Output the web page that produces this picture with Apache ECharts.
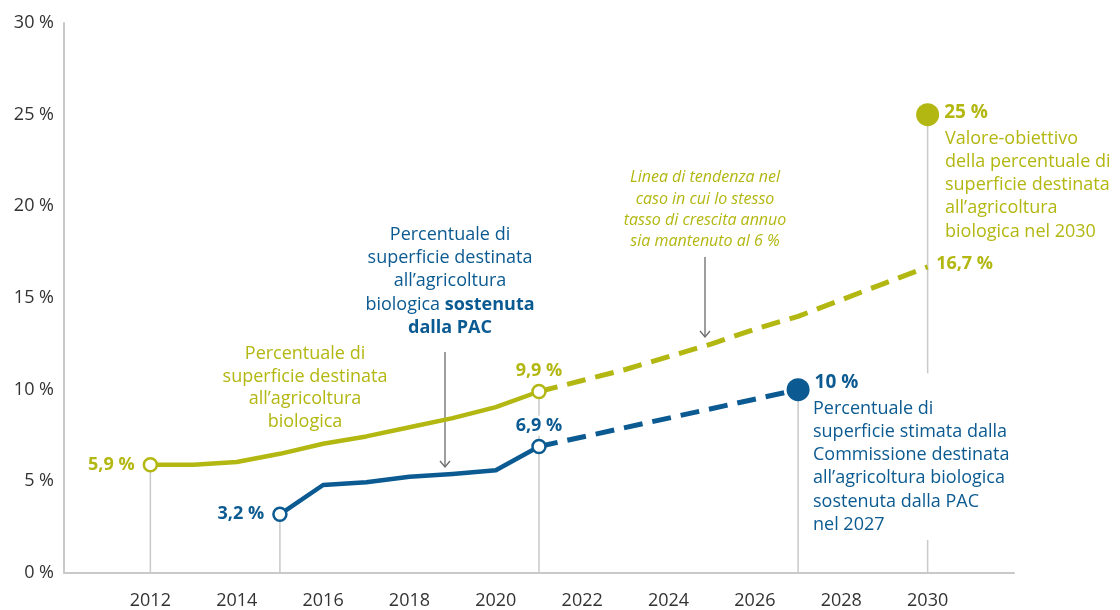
<!DOCTYPE html>
<html><head><meta charset="utf-8">
<script src="https://cdn.jsdelivr.net/npm/echarts@6/dist/echarts.min.js"></script>
<style>html,body{margin:0;padding:0;background:#fff}#c{width:1120px;height:610px}</style>
</head><body><div id="c"></div>
<script>
// ---- data ----
const greenYears  = [2012, 2013, 2014, 2015, 2016, 2017, 2018, 2019, 2020, 2021];
const greenValues = [5.9, 5.9, 6.05, 6.5, 7.05, 7.45, 7.95, 8.45, 9.05, 9.9];
const trendYears  = [2021, 2022, 2023, 2024, 2025, 2026, 2027, 2028, 2029, 2030];
const trendValues = [9.9, 10.5, 11.1, 11.8, 12.5, 13.3, 14.0, 14.9, 15.8, 16.7];
const blueYears   = [2015, 2016, 2017, 2018, 2019, 2020, 2021];
const blueValues  = [3.2, 4.8, 4.95, 5.25, 5.4, 5.6, 6.9];
const blueProjYears  = [2021, 2027];
const blueProjValues = [6.9, 10];
const targetYear = 2030, targetValue = 25;
const xTicks = [2012, 2014, 2016, 2018, 2020, 2022, 2024, 2026, 2028, 2030];
const yTicks = [0, 5, 10, 15, 20, 25, 30];
// drop lines: [year, from, to]
const dropLines = [[2012, 5.9, 0], [2015, 3.2, 0], [2021, 9.9, 0], [2027, 10, 0], [2030, 25, 10.9], [2030, 1.8, 0]];

const GREEN = '#b3b711', BLUE = '#0b5a91', GREY = '#c9c9c9', TXT = '#333333';
const FONT = '"Open Sans", "Noto Sans", sans-serif';
const fmt = v => String(v).replace('.', ',') + ' %';

const chart = echarts.init(document.getElementById('c'), null, {renderer: 'canvas'});

const series = [];
dropLines.forEach(d => series.push({
  type: 'line', data: [[d[0], d[1]], [d[0], d[2]]], symbol: 'none', silent: true, z: 1,
  lineStyle: {color: GREY, width: 1.5}
}));
series.push({type: 'line', data: greenYears.map((y, i) => [y, greenValues[i]]), symbol: 'none', z: 3,
  lineStyle: {color: GREEN, width: 4.5, join: 'round'}});
series.push({type: 'line', data: trendYears.map((y, i) => [y, trendValues[i]]), symbol: 'none', z: 3,
  lineStyle: {color: GREEN, width: 5, type: [19, 10], cap: 'butt'}});
series.push({type: 'line', data: blueYears.map((y, i) => [y, blueValues[i]]), symbol: 'none', z: 3,
  lineStyle: {color: BLUE, width: 4.5, join: 'round'}});
series.push({type: 'line', data: blueProjYears.map((y, i) => [y, blueProjValues[i]]), symbol: 'none', z: 3,
  lineStyle: {color: BLUE, width: 5, type: [19, 10], cap: 'butt'}});

const hollow = (x, y, col, pos, dist, bg) => ({
  value: [x, y], symbol: 'circle', symbolSize: 13,
  itemStyle: {color: '#fff', borderColor: col, borderWidth: 2.5, opacity: 1},
  label: {show: true, position: pos, distance: dist, formatter: fmt(y), color: col,
    fontFamily: FONT, fontWeight: 'bold', fontSize: 18,
    backgroundColor: bg ? '#fff' : 'transparent', padding: bg ? [1, 2] : 0}
});
const g0 = greenValues.length - 1, b0 = blueValues.length - 1, t0 = trendValues.length - 1;
series.push({type: 'scatter', z: 5, itemStyle: {opacity: 1}, data: [
  hollow(greenYears[0], greenValues[0], GREEN, 'left', 8),
  hollow(greenYears[g0], greenValues[g0], GREEN, 'top', 4),
  hollow(blueYears[0], blueValues[0], BLUE, 'left', 8),
  hollow(blueYears[b0], blueValues[b0], BLUE, 'top', 3, true),
  {value: [blueProjYears[1], blueProjValues[1]], symbol: 'circle', symbolSize: 23, itemStyle: {color: BLUE, opacity: 1},
    label: {show: true, position: 'right', distance: 5, offset: [0, -7], formatter: fmt(blueProjValues[1]), color: BLUE,
      fontFamily: FONT, fontWeight: 'bold', fontSize: 19}},
  {value: [targetYear, targetValue], symbol: 'circle', symbolSize: 23, itemStyle: {color: GREEN, opacity: 1},
    label: {show: true, position: 'right', distance: 5, offset: [0, -2], formatter: fmt(targetValue), color: GREEN,
      fontFamily: FONT, fontWeight: 'bold', fontSize: 19}},
  {value: [trendYears[t0], trendValues[t0]], symbol: 'circle', symbolSize: 1, itemStyle: {color: 'transparent'},
    label: {show: true, position: 'right', distance: 8, offset: [0, -3], formatter: fmt(trendValues[t0]), color: GREEN,
      fontFamily: FONT, fontWeight: 'bold', fontSize: 18}}
]});

const txt = (x, y, text, fill, align, extra) => Object.assign({
  type: 'text', x: x, y: y, z: 10,
  style: Object.assign({text: text, fill: fill, font: '18px ' + FONT, align: align, verticalAlign: 'top', lineHeight: 23}, extra || {})
});
const arrow = (x, y1, y2) => ({type: 'group', z: 9, children: [
  {type: 'line', shape: {x1: x, y1: y1, x2: x, y2: y2}, style: {stroke: '#6b6b6b', lineWidth: 1.3}},
  {type: 'polyline', shape: {points: [[x - 5, y2 - 6], [x, y2], [x + 5, y2 - 6]]}, style: {stroke: '#6b6b6b', lineWidth: 1.3, fill: null}}
]});

chart.setOption({
  animation: false,
  grid: {left: 64, right: 106, top: 23, bottom: 37, containLabel: false},
  xAxis: {type: 'value', min: 2010, max: 2032, interval: 2,
    axisLine: {show: true, lineStyle: {color: GREY, width: 2}},
    axisTick: {show: false}, splitLine: {show: false},
    axisLabel: {color: TXT, fontSize: 18, fontFamily: FONT, margin: 19,
      showMinLabel: false, showMaxLabel: false,
      formatter: v => xTicks.indexOf(v) >= 0 ? String(v) : ''}},
  yAxis: {type: 'value', min: yTicks[0], max: yTicks[yTicks.length - 1], interval: 5,
    axisLine: {show: true, lineStyle: {color: GREY, width: 2}},
    axisTick: {show: false}, splitLine: {show: false},
    axisLabel: {color: TXT, fontSize: 18, fontFamily: FONT, margin: 10, formatter: v => v + ' %'}},
  series: series,
  graphic: [
    txt(305, 343, 'Percentuale di\nsuperficie destinata\nall\u2019agricoltura\nbiologica', GREEN, 'center', {lineHeight: 22.5}),
    txt(450, 223, '{n|Percentuale di}\n{n|superficie destinata}\n{n|all\u2019agricoltura}\n{n|biologica }{b|sostenuta}\n{b|dalla PAC}', BLUE, 'center',
      {lineHeight: 23.3, rich: {n: {fill: BLUE, font: '18px ' + FONT, lineHeight: 23.3}, b: {fill: BLUE, font: 'bold 18px ' + FONT, lineHeight: 23.3}}}),
    txt(705, 167, 'Linea di tendenza nel\ncaso in cui lo stesso\ntasso di crescita annuo\nsia mantenuto al 6 %', GREEN, 'center',
      {font: 'italic 16px ' + FONT, lineHeight: 21.3}),
    txt(945, 127, 'Valore-obiettivo\ndella percentuale di\nsuperficie destinata\nall\u2019agricoltura\nbiologica nel 2030', GREEN, 'left', {lineHeight: 23.2}),
    txt(813, 397, 'Percentuale di\nsuperficie stimata dalla\nCommissione destinata\nall\u2019agricoltura biologica\nsostenuta dalla PAC\nnel 2027', BLUE, 'left', {lineHeight: 23.2}),
    arrow(445, 352, 467),
    arrow(705, 257, 337)
  ]
});
</script></body></html>
